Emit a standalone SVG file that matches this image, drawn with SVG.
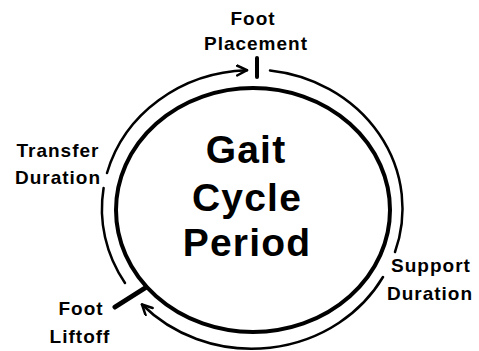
<svg xmlns="http://www.w3.org/2000/svg" width="479" height="351" viewBox="0 0 479 351">
  <style>
    .lbl { font-family: "Liberation Sans", Arial, sans-serif; font-weight: bold; font-size: 19px; fill: #000; text-anchor: middle; letter-spacing: 1px; }
    .big { font-family: "Liberation Sans", Arial, sans-serif; font-weight: bold; font-size: 39px; fill: #000; text-anchor: middle; letter-spacing: 1.2px; }
    .arc { fill: none; stroke: #000; stroke-width: 2.5; stroke-linecap: round; }
    .tick { stroke: #000; stroke-linecap: round; }
  </style>
  <defs>
    <marker id="arrow" markerUnits="userSpaceOnUse" markerWidth="14" markerHeight="14" refX="11" refY="6" orient="auto">
      <path d="M1,1 L11,6 L1,11" fill="none" stroke="#000" stroke-width="2.5" stroke-linecap="round" stroke-linejoin="round"/>
    </marker>
  </defs>
  <rect width="479" height="351" fill="#fff"/>

  <g id="cycle">
    <ellipse cx="253" cy="210" rx="137" ry="122" fill="none" stroke="#000" stroke-width="4"/>
    <text class="big" x="246" y="163">Gait</text>
    <text class="big" x="247" y="211">Cycle</text>
    <text class="big" x="247" y="256">Period</text>
  </g>

  <g id="foot-placement">
    <line class="tick" x1="257" y1="58" x2="257" y2="77" stroke-width="4"/>
    <text class="lbl" x="253" y="25">Foot</text>
    <text class="lbl" x="256" y="50">Placement</text>
  </g>

  <g id="foot-liftoff">
    <line class="tick" x1="115" y1="307" x2="145" y2="288" stroke-width="5"/>
    <text class="lbl" x="81" y="315">Foot</text>
    <text class="lbl" x="80" y="343">Liftoff</text>
  </g>

  <g id="transfer-duration">
    <text class="lbl" x="58" y="157">Transfer</text>
    <text class="lbl" x="58" y="184">Duration</text>
  </g>

  <g id="support-duration">
    <text class="lbl" x="431" y="272">Support</text>
    <text class="lbl" x="430" y="300">Duration</text>
  </g>

  <g id="connectors">
    <path class="arc" d="M125,283 A150,139 0 0 1 103.6,188"/>
    <path class="arc" d="M107,173 A150,139 0 0 1 247,70.2" marker-end="url(#arrow)"/>
    <path class="arc" d="M270,70.5 A150,139 0 0 1 395,252"/>
    <path class="arc" d="M383,277 A150,139 0 0 1 142,304.5" marker-end="url(#arrow)"/>
  </g>
</svg>
